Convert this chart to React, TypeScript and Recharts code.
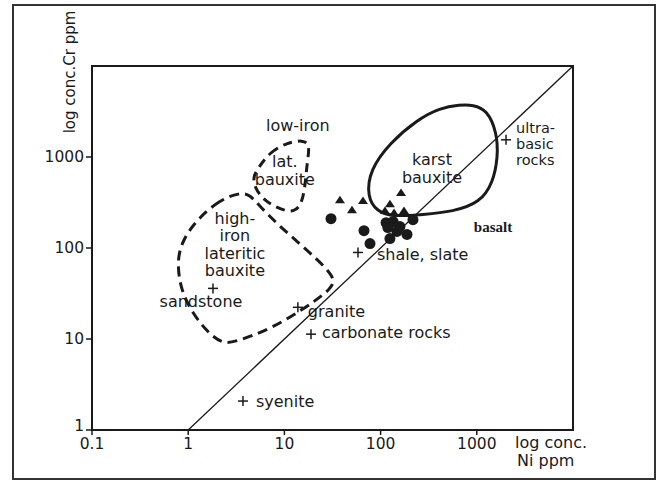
import React from 'react'
import {
  ScatterChart,
  Scatter,
  XAxis,
  YAxis,
  ReferenceLine,
  ReferenceArea,
} from 'recharts'

// log conc. Ni ppm (x) / log conc. Cr ppm (y)
const xTicks = [0.1, 1, 10, 100, 1000]
const yTicks = [1, 10, 100, 1000]

// bauxite samples
const circleNi = [30.5, 67.2, 77.6, 125, 114, 135, 159, 148, 188, 217, 119]
const circleCr = [210, 155, 112, 127, 190, 195, 172, 152, 141, 205, 168]
const triangleNi = [37.8, 50.4, 65.6, 163, 125, 111, 175, 138]
const triangleCr = [340, 264, 332, 406, 307, 258, 258, 245]

// reference rocks (+)
const rockNames = ['ultra-\nbasic\nrocks', 'shale, slate', 'granite', 'carbonate rocks', 'sandstone', 'syenite']
const rockNi = [2013, 58.2, 13.8, 18.9, 1.81, 3.71]
const rockCr = [1545, 89.3, 22.3, 11.3, 36.0, 2.08]

// field names
const regionNames = ['low-iron', 'lat.\nbauxite', 'high-\niron\nlateritic\nbauxite', 'karst\nbauxite', 'basalt']
const regionNi = [13.8, 10.1, 3.06, 342, 1474]
const regionCr = [2200, 707, 109, 743, 168]

// field outlines
const latNi = [5.19, 7.09, 10.6, 15.6, 18.5, 17.2, 16.4, 15.2, 12.9, 9.0, 5.99, 4.95, 4.72]
const latCr = [725, 1142, 1432, 1545, 1362, 865, 472, 315, 245, 264, 340, 460, 593]
const highNi = [3.46, 2.14, 1.23, 0.883, 0.765, 0.822, 1.04, 1.57, 2.3, 3.22, 7.09, 15.6, 27.7, 33.6, 29.8, 15.6, 9.0, 5.58, 4.39]
const highCr = [406, 340, 205, 124, 74.8, 37.8, 21.2, 11.9, 8.76, 9.45, 12.8, 21.2, 32.5, 41.9, 55.2, 104, 172, 285, 386]
const karstNi = [914, 1277, 1622, 1660, 1474, 1080, 566, 276, 135, 91.8, 72.2, 77.6, 125, 239, 414, 669]
const karstCr = [3741, 3296, 1845, 1006, 522, 315, 251, 233, 221, 251, 367, 725, 1432, 2560, 3467, 3741]

const zip = (xs: number[], ys: number[]) => xs.map((x, i) => ({ x, y: ys[i] }))

const circles = zip(circleNi, circleCr)
const triangles = zip(triangleNi, triangleCr)
const rocks = rockNames.map((name, i) => ({ name, x: rockNi[i], y: rockCr[i] }))
const regions = regionNames.map((name, i) => ({ name, x: regionNi[i], y: regionCr[i] }))
const latField = zip(latNi, latCr)
const highField = zip(highNi, highCr)
const karstField = zip(karstNi, karstCr)

const FONT = '"DejaVu Sans", sans-serif'
const INK = '#1a1a1a'

const rockLabel: Record<string, { dx: number; dy: number; anchor: 'start' | 'middle'; lh?: number; fs?: number }> = {
  'ultra-\nbasic\nrocks': { dx: 10, dy: -12, anchor: 'start', lh: 16, fs: 14.5 },
  'shale, slate': { dx: 19, dy: 2, anchor: 'start' },
  granite: { dx: 10, dy: 4, anchor: 'start' },
  'carbonate rocks': { dx: 11, dy: -2, anchor: 'start' },
  sandstone: { dx: -12, dy: 13, anchor: 'middle' },
  syenite: { dx: 13, dy: 0, anchor: 'start' },
}

const Nothing = () => <g />

const Dot = ({ cx, cy }: any) => <circle cx={cx} cy={cy} r={5.5} fill={INK} />

const Triangle = ({ cx, cy }: any) => (
  <polygon points={`${cx - 5},${cy + 3.5} ${cx + 5},${cy + 3.5} ${cx},${cy - 4}`} fill={INK} />
)

// y tick labels; the "1" sits a bit higher so it clears "0.1"
const YTick = ({ x, y, payload }: any) => (
  <text
    x={x}
    y={y - (payload.value === 1 ? 4 : 0)}
    textAnchor="end"
    dominantBaseline="central"
    fontSize={15.5}
    fontFamily={FONT}
    fill={INK}
  >
    {String(payload.value)}
  </text>
)

const Rock = ({ cx, cy, payload }: any) => {
  const s = rockLabel[payload.name]
  const lines = payload.name.split('\n')
  const lh = s.lh ?? 17
  return (
    <g>
      <line x1={cx - 5} x2={cx + 5} y1={cy} y2={cy} stroke={INK} strokeWidth={1.5} />
      <line x1={cx} x2={cx} y1={cy - 5} y2={cy + 5} stroke={INK} strokeWidth={1.5} />
      {lines.map((l: string, i: number) => (
        <text
          key={i}
          x={cx + s.dx}
          y={cy + s.dy + i * lh}
          textAnchor={s.anchor}
          dominantBaseline="central"
          fontSize={s.fs ?? 16}
          fontFamily={FONT}
          fill={INK}
        >
          {l}
        </text>
      ))}
    </g>
  )
}

const Region = ({ cx, cy, payload }: any) => {
  if (payload.name === 'basalt') {
    return (
      <text x={cx} y={cy} textAnchor="middle" dominantBaseline="central" fontSize={15}
        fontWeight="bold" fontFamily='"Liberation Serif", serif' fill={INK}>
        basalt
      </text>
    )
  }
  const lines = payload.name.split('\n')
  const lh = 17.5
  return (
    <g>
      {lines.map((l: string, i: number) => (
        <text
          key={i}
          x={cx}
          y={cy + (i - (lines.length - 1) / 2) * lh}
          textAnchor="middle"
          dominantBaseline="central"
          fontSize={16}
          fontFamily={FONT}
          fill={INK}
        >
          {l}
        </text>
      ))}
    </g>
  )
}

export default function App() {
  return (
    <div style={{ position: 'absolute', left: 0, top: 0, width: 661, height: 480, background: '#fff', fontFamily: FONT }}>
      <div
        style={{
          position: 'absolute', left: 12, top: 4, width: 644, height: 476,
          border: '2px solid #333', boxSizing: 'border-box',
        }}
      />
      <ScatterChart width={661} height={480} margin={{ top: 66, right: 88, bottom: 0, left: 0 }}>
        <XAxis
          type="number"
          dataKey="x"
          scale="log"
          domain={[0.1, 10000]}
          ticks={xTicks}
          allowDataOverflow
          height={50}
          tickSize={5}
          tickMargin={3}
          tickFormatter={(v) => String(v)}
          tick={{ fill: INK, fontSize: 15.5, fontFamily: FONT }}
          axisLine={{ stroke: INK, strokeWidth: 2 }}
          tickLine={{ stroke: INK, strokeWidth: 1.5 }}
        />
        <YAxis
          type="number"
          dataKey="y"
          scale="log"
          domain={[1, 10000]}
          ticks={yTicks}
          allowDataOverflow
          width={92}
          tickSize={6}
          tickMargin={2}
          tick={<YTick />}
          axisLine={{ stroke: INK, strokeWidth: 2 }}
          tickLine={{ stroke: INK, strokeWidth: 1.5 }}
        />
        <ReferenceArea x1={0.1} x2={10000} y1={1} y2={10000} fill="none" stroke={INK} strokeWidth={2} ifOverflow="visible" />
        <ReferenceLine segment={[{ x: 1, y: 1 }, { x: 10000, y: 10000 }]} stroke={INK} strokeWidth={1.3} ifOverflow="visible" />
        <Scatter
          data={latField}
          shape={Nothing}
          line={{ stroke: INK, strokeWidth: 3, strokeDasharray: '9 6' }}
          lineJointType="basisClosed"
          isAnimationActive={false}
        />
        <Scatter
          data={highField}
          shape={Nothing}
          line={{ stroke: INK, strokeWidth: 3, strokeDasharray: '10 6' }}
          lineJointType="basisClosed"
          isAnimationActive={false}
        />
        <Scatter
          data={karstField}
          shape={Nothing}
          line={{ stroke: INK, strokeWidth: 3 }}
          lineJointType="basisClosed"
          isAnimationActive={false}
        />
        <Scatter data={triangles} shape={Triangle} isAnimationActive={false} />
        <Scatter data={circles} shape={Dot} isAnimationActive={false} />
        <Scatter data={rocks} shape={Rock} isAnimationActive={false} />
        <Scatter data={regions} shape={Region} isAnimationActive={false} />
      </ScatterChart>
      <div
        style={{
          position: 'absolute', left: 70, top: 72, transform: 'translate(-50%, -50%) rotate(-90deg)',
          whiteSpace: 'nowrap', fontSize: 15, color: INK,
        }}
      >
        log conc.Cr ppm
      </div>
      <div style={{ position: 'absolute', left: 515, top: 434, fontSize: 16, lineHeight: '18px', color: INK }}>
        log conc.
        <br />
        <span style={{ paddingLeft: 2 }}>Ni ppm</span>
      </div>
    </div>
  )
}
